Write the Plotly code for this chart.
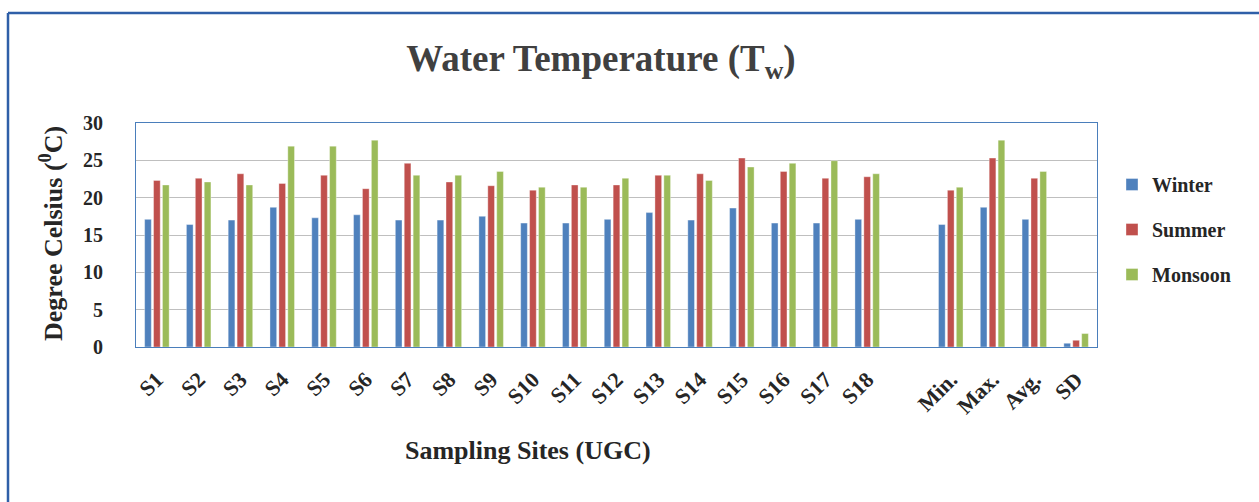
import plotly.graph_objects as go

sites = ["S1", "S2", "S3", "S4", "S5", "S6", "S7", "S8", "S9", "S10", "S11", "S12",
         "S13", "S14", "S15", "S16", "S17", "S18", " ", "Min.", "Max.", "Avg.", "SD"]

winter = [17.1, 16.4, 17.0, 18.7, 17.3, 17.7, 17.0, 17.0, 17.5, 16.6, 16.6, 17.1,
          18.0, 17.0, 18.6, 16.6, 16.6, 17.1, None, 16.4, 18.7, 17.1, 0.5]
summer = [22.3, 22.6, 23.2, 21.9, 23.0, 21.2, 24.6, 22.1, 21.6, 21.0, 21.7, 21.7,
          23.0, 23.2, 25.3, 23.5, 22.6, 22.8, None, 21.0, 25.3, 22.6, 0.9]
monsoon = [21.7, 22.1, 21.7, 26.9, 26.9, 27.7, 23.0, 23.0, 23.5, 21.4, 21.4, 22.6,
           23.0, 22.3, 24.1, 24.6, 24.95, 23.2, None, 21.4, 27.7, 23.5, 1.8]

series = [("Winter", winter, "#4F81BD"),
          ("Summer", summer, "#C0504D"),
          ("Monsoon", monsoon, "#9BBB59")]

FONT = "Liberation Serif"

fig = go.Figure()
for name, vals, col in series:
    fig.add_trace(go.Bar(
        x=sites, y=vals, name=name, legendgroup=name,
        marker=dict(color=col, line=dict(color="rgba(255,255,255,0.6)", width=0.6)),
    ))

W, H = 1259, 502
L, R, T, B = 136, 1097, 123, 347
pw, ph = R - L, B - T

def px(x):
    return (x - L) / pw

def py(y):
    return (B - y) / ph

fig.update_layout(
    width=W, height=H,
    margin=dict(l=L, r=W - R, t=T, b=H - B, autoexpand=False),
    paper_bgcolor="white", plot_bgcolor="white",
    barmode="group", bargap=0.36, bargroupgap=0.25,
    font=dict(family=FONT, color="#262626"),
    title=dict(text="Water Temperature (T<sub>w</sub>)",
               x=px(601), xref="paper", xanchor="center",
               y=1 - 58 / H, yanchor="middle",
               font=dict(family=FONT, size=37, color="#404040", weight="bold")),
    legend=dict(x=px(1112), y=py(165), xanchor="left", yanchor="top",
                font=dict(family=FONT, size=20, color="#262626", weight="bold"),
                tracegroupgap=16, bgcolor="rgba(0,0,0,0)", itemwidth=30),
    xaxis=dict(type="category", categoryorder="array", categoryarray=sites,
               tickangle=-45, showgrid=False,
               tickfont=dict(family=FONT, size=22, color="#262626", weight="bold"),
               showline=True, linecolor="#4A7EBB", linewidth=1, mirror=True,
               ticks="", ticklabelstandoff=10),
    yaxis=dict(range=[0, 30], dtick=5, showgrid=True, gridcolor="#BFBFBF", gridwidth=1,
               tickfont=dict(family=FONT, size=20, color="#262626", weight="bold"),
               showline=True, linecolor="#4A7EBB", linewidth=1, mirror=True,
               ticks="", ticklabelstandoff=28, zeroline=False),
    showlegend=True,
)

fig.add_annotation(text="Sampling Sites (UGC)", xref="paper", yref="paper",
                   x=px(528), y=py(450), xanchor="center", yanchor="middle",
                   showarrow=False,
                   font=dict(family=FONT, size=26, color="#262626", weight="bold"))
fig.add_annotation(text="Degree Celsius (<sup>0</sup>C)", xref="paper", yref="paper",
                   x=px(51), y=py(234), xanchor="center", yanchor="middle",
                   showarrow=False, textangle=-90,
                   font=dict(family=FONT, size=26, color="#262626", weight="bold"))

# outer frame lines
fig.add_shape(type="line", xref="paper", yref="paper",
              x0=px(8), x1=px(W + 5), y0=py(13), y1=py(13),
              line=dict(color="#2F5FA8", width=2.5))
fig.add_shape(type="line", xref="paper", yref="paper",
              x0=px(8), x1=px(8), y0=py(13), y1=py(H + 5),
              line=dict(color="#2F5FA8", width=2.5))

fig.write_html("out.html")
